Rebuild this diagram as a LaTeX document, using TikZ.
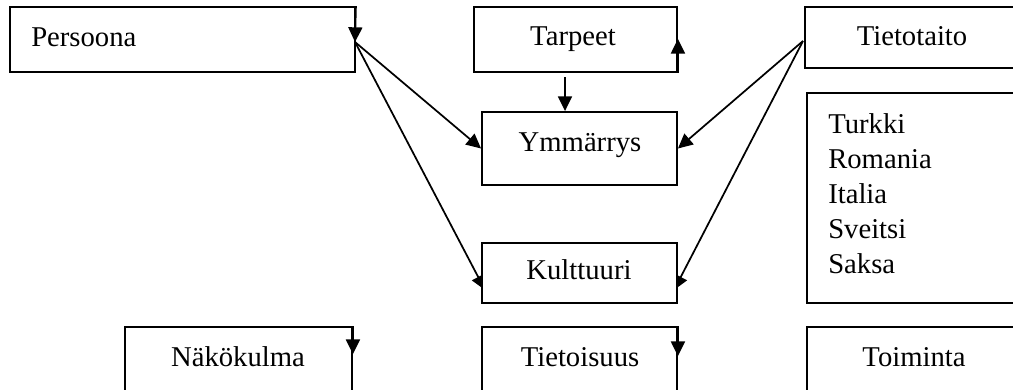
\documentclass[tikz,border=0pt]{standalone}
\usepackage{fontspec}
\setmainfont{Liberation Serif}
\usetikzlibrary{arrows.meta}
\begin{document}
\begin{tikzpicture}[x=0.75pt,y=-0.75pt,
  box/.style={draw=black, fill=white, line width=1.4pt, inner sep=0pt},
  lbl/.style={inner sep=0pt, anchor=base, font=\fontsize{21.5}{26.25}\selectfont},
  arr/.style={line width=1.3pt, -{Triangle[length=11pt,width=10.5pt]}}]
\useasboundingbox (0,0) rectangle (1013,389);
\clip (0,0) rectangle (1013,389);

% connector end points
\coordinate (pin) at (355,42);
\coordinate (tin) at (803,41);
\coordinate (kl) at (485,290);
\coordinate (kr) at (674,290);
\coordinate (ta) at (565,77);

% connectors into the culture box (partly covered by it)
\draw[arr] (pin) -- (kl);
\draw[arr] (tin) -- (kr);

% boxes
\node[box, minimum width=258.75pt, minimum height=48.75pt] (persoona) at (182.5,39.5) {};
\node[box, minimum width=152.25pt, minimum height=48.75pt] (tarpeet) at (575.5,39.5) {};
\node[box, minimum width=161.25pt, minimum height=45.75pt] (tietotaito) at (912.5,37.5) {};
\node[box, minimum width=146.25pt, minimum height=54.75pt] (ymm) at (579.5,148.5) {};
\node[box, minimum width=146.25pt, minimum height=45pt] (kult) at (579.5,273) {};
\node[box, minimum width=159.75pt, minimum height=157.5pt] (maat) at (913.5,198) {};
\node[box, minimum width=170.25pt, minimum height=48.75pt] (nako) at (238.5,359.5) {};
\node[box, minimum width=146.25pt, minimum height=48.75pt] (tieto) at (579.5,359.5) {};
\node[box, minimum width=159.75pt, minimum height=48.75pt] (toim) at (913.5,359.5) {};

% texts
\node[lbl, anchor=base west] (tpersoona) at (31,46) {Persoona};
\node[lbl] (ttarpeet) at (573,45) {Tarpeet};
\node[lbl] (ttietotaito) at (912,45) {Tietotaito};
\node[lbl] (tymm) at (580,151) {Ymmärrys};
\node[lbl] (tkult) at (579,279) {Kulttuuri};
% the base anchor of a multi-line node sits on its last line
\node[lbl, anchor=base west, align=left] (tmaat) at (828,273)
  {Turkki\\Romania\\Italia\\Sveitsi\\Saksa};
\node[lbl] (tnako) at (238,366) {Näkökulma};
\node[lbl] (ttieto) at (580,366) {Tietoisuus};
\node[lbl] (ttoim) at (914,366) {Toiminta};

% arrows along box edges
\draw[arr] (persoona.north east) -- (pin);
\draw[arr] (tarpeet.south east) -- ++(0,-34);
\draw[arr] (nako.north east) -- ++(0,28);
\draw[arr] (tieto.north east) -- ++(0,30);

% connectors into the understanding box
\draw[arr] (ta) -- (ta |- ymm.north);
\draw[arr] (pin) -- (ymm.west);
\draw[arr] (tin) -- (ymm.east);
\end{tikzpicture}
\end{document}
